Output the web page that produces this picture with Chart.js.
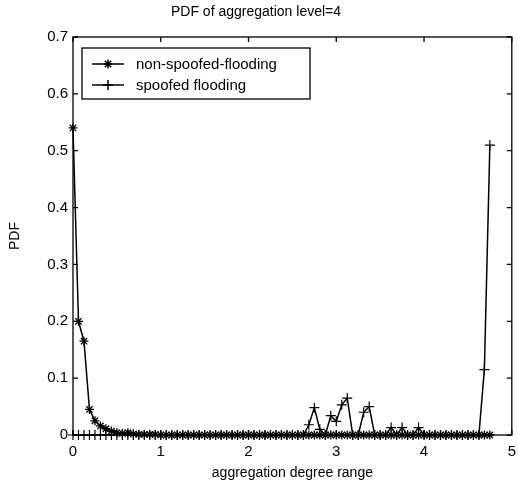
<!DOCTYPE html>
<html>
<head>
<meta charset="utf-8">
<script src="https://cdn.jsdelivr.net/npm/chart.js@4/dist/chart.umd.min.js"></script>
<style>
  html, body { margin: 0; padding: 0; background: #fff; }
  #wrap { width: 518px; height: 486px; }
</style>
</head>
<body>
<div id="wrap"><canvas id="pdfChart" width="518" height="486"></canvas></div>
<script>
// aggregation degree bins (x values)
const degreeBins = [
  0, 0.0625, 0.125, 0.1875, 0.25, 0.3125, 0.375, 0.4375, 0.5, 0.5625,
  0.625, 0.6875, 0.75, 0.8125, 0.875, 0.9375, 1, 1.0625, 1.125, 1.1875,
  1.25, 1.3125, 1.375, 1.4375, 1.5, 1.5625, 1.625, 1.6875, 1.75, 1.8125,
  1.875, 1.9375, 2, 2.0625, 2.125, 2.1875, 2.25, 2.3125, 2.375, 2.4375,
  2.5, 2.5625, 2.625, 2.6875, 2.75, 2.8125, 2.875, 2.9375, 3, 3.0625,
  3.125, 3.1875, 3.25, 3.3125, 3.375, 3.4375, 3.5, 3.5625, 3.625, 3.6875,
  3.75, 3.8125, 3.875, 3.9375, 4, 4.0625, 4.125, 4.1875, 4.25, 4.3125,
  4.375, 4.4375, 4.5, 4.5625, 4.625, 4.6875, 4.75
];

const nonSpoofed = [
  0.54, 0.2, 0.165, 0.045, 0.025, 0.016, 0.011, 0.007, 0.004, 0.003,
  0.004, 0.002, 0.001, 0.001, 0.001, 0.001, 0, 0, 0, 0,
  0, 0, 0, 0, 0, 0, 0, 0, 0, 0,
  0, 0, 0, 0, 0, 0, 0, 0, 0, 0,
  0, 0, 0, 0, 0, 0, 0, 0, 0, 0,
  0, 0, 0, 0, 0, 0, 0, 0, 0, 0,
  0, 0, 0, 0, 0, 0, 0, 0, 0, 0,
  0, 0, 0, 0, 0, 0, 0
];

const spoofed = [
  0, 0, 0, 0, 0, 0, 0, 0, 0, 0,
  0, 0, 0, 0, 0, 0, 0, 0, 0, 0,
  0, 0, 0, 0, 0, 0, 0, 0, 0, 0,
  0, 0, 0, 0, 0, 0, 0, 0, 0, 0,
  0, 0, 0, 0.018, 0.048, 0.01, 0, 0.034, 0.024, 0.053,
  0.065, 0, 0, 0.04, 0.05, 0, 0, 0, 0.013, 0,
  0.013, 0, 0, 0.013, 0, 0, 0, 0, 0, 0,
  0, 0, 0, 0, 0, 0.115, 0.51
];

const xTickLabels = ['0', '1', '2', '3', '4', '5'];
const yTickLabels = ['0', '0.1', '0.2', '0.3', '0.4', '0.5', '0.6', '0.7'];
const seriesNames = ['non-spoofed-flooding', 'spoofed flooding'];

const FONT = "'Liberation Sans', Arial, Helvetica, sans-serif";

function toPoints(ys) {
  return degreeBins.map((x, i) => ({ x: x, y: ys[i] }));
}

// box around the axes with inward ticks on all four sides (matlab look)
const boxTicks = {
  id: 'boxTicks',
  afterDraw(chart) {
    const { ctx, chartArea: a, scales } = chart;
    const len = 5;
    ctx.save();
    ctx.strokeStyle = '#000';
    ctx.lineWidth = 1.3;
    ctx.strokeRect(a.left, a.top, a.right - a.left, a.bottom - a.top);
    ctx.beginPath();
    scales.x.ticks.forEach(t => {
      const px = scales.x.getPixelForValue(t.value);
      ctx.moveTo(px, a.bottom); ctx.lineTo(px, a.bottom - len);
      ctx.moveTo(px, a.top); ctx.lineTo(px, a.top + len);
    });
    scales.y.ticks.forEach(t => {
      const py = scales.y.getPixelForValue(t.value);
      ctx.moveTo(a.left, py); ctx.lineTo(a.left + len, py);
      ctx.moveTo(a.right, py); ctx.lineTo(a.right - len, py);
    });
    ctx.stroke();
    ctx.restore();
  }
};

// legend box in the upper left of the plot
const boxLegend = {
  id: 'boxLegend',
  afterDatasetsDraw(chart) {
    const { ctx, chartArea: a } = chart;
    const bx = a.left + 9, by = a.top + 11, bw = 228, bh = 51;
    ctx.save();
    ctx.fillStyle = '#fff';
    ctx.fillRect(bx, by, bw, bh);
    ctx.strokeStyle = '#000';
    ctx.lineWidth = 1.3;
    ctx.strokeRect(bx, by, bw, bh);
    chart.data.datasets.forEach((ds, i) => {
      const y = by + 16 + i * 21;
      ctx.lineWidth = 1.5;
      ctx.beginPath();
      ctx.moveTo(bx + 10, y);
      ctx.lineTo(bx + 42, y);
      ctx.stroke();
      Chart.helpers.drawPoint(ctx, {
        pointStyle: ds.pointStyle, radius: ds.pointRadius, borderWidth: 1.3
      }, bx + 26, y);
      ctx.fillStyle = '#000';
      ctx.font = '15px ' + FONT;
      ctx.textBaseline = 'middle';
      ctx.textAlign = 'left';
      ctx.fillText(ds.label, bx + 54, y + 1);
    });
    ctx.restore();
  }
};

new Chart(document.getElementById('pdfChart'), {
  type: 'line',
  data: {
    datasets: [
      {
        label: seriesNames[0],
        data: toPoints(nonSpoofed),
        borderColor: '#000',
        backgroundColor: '#000',
        borderWidth: 1.5,
        pointStyle: 'star',
        pointRadius: 4.5,
        pointBorderWidth: 1.3,
        pointBorderColor: '#000',
        tension: 0,
        clip: false
      },
      {
        label: seriesNames[1],
        data: toPoints(spoofed),
        borderColor: '#000',
        backgroundColor: '#000',
        borderWidth: 1.5,
        pointStyle: 'cross',
        pointRadius: 5,
        pointBorderWidth: 1.2,
        pointBorderColor: '#000',
        tension: 0,
        clip: false
      }
    ]
  },
  options: {
    responsive: false,
    animation: false,
    layout: { padding: { left: 0, right: 6, top: 0, bottom: 0 } },
    plugins: {
      legend: { display: false },
      tooltip: { enabled: false },
      title: {
        display: true,
        text: 'PDF of aggregation level=4',
        color: '#000',
        font: { family: FONT, size: 14, weight: 'normal', lineHeight: 1.2 },
        padding: { top: 4, bottom: 16.2 }
      }
    },
    scales: {
      x: {
        type: 'linear',
        min: 0,
        max: 5,
        afterFit: s => { s.height = 51; s.paddingLeft = 0; s.paddingRight = 0; },
        grid: { display: false, drawTicks: false },
        border: { display: false },
        ticks: {
          stepSize: 1,
          padding: 8,
          color: '#000',
          font: { family: FONT, size: 15 },
          maxRotation: 0,
          callback: (v) => xTickLabels[Math.round(v)]
        },
        title: {
          display: true,
          text: 'aggregation degree range',
          color: '#000',
          font: { family: FONT, size: 14 },
          padding: { top: 0, bottom: 4 }
        }
      },
      y: {
        min: 0,
        max: 0.7,
        afterFit: s => { s.width = 73; },
        grid: { display: false, drawTicks: false },
        border: { display: false },
        ticks: {
          stepSize: 0.1,
          padding: 5,
          color: '#000',
          font: { family: FONT, size: 15 },
          callback: (v) => yTickLabels[Math.round(v * 10)]
        },
        title: {
          display: true,
          text: 'PDF',
          color: '#000',
          font: { family: FONT, size: 14 },
          padding: { top: 7, bottom: 0 }
        }
      }
    }
  },
  plugins: [boxTicks, boxLegend]
});
</script>
</body>
</html>
